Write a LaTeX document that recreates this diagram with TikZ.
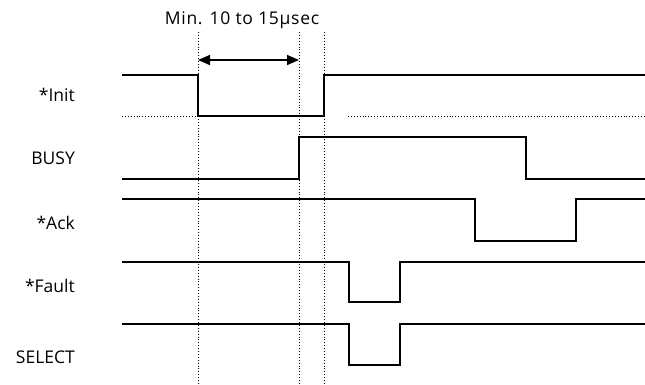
\documentclass[tikz,border=0pt]{standalone}
\usepackage{fontspec}
\setmainfont{Open Sans}
\usetikzlibrary{arrows.meta}
\begin{document}
\begin{tikzpicture}[x=1pt,y=-1pt,
  sig/.style={line width=1.4pt, line join=miter},
  guide/.style={line width=0.9pt, dotted},
  lbl/.style={anchor=base east, inner sep=0pt, font=\fontsize{17.5}{20}\selectfont},
  ttl/.style={anchor=base, inner sep=0pt, font=\fontsize{17.5}{20}\selectfont\addfontfeature{LetterSpace=4}}]
\useasboundingbox (0,0) rectangle (645,384);
% timing guide coordinates
\coordinate (t1top) at (198,32); \coordinate (t1bot) at (198,384);
\coordinate (t2top) at (299,32); \coordinate (t2bot) at (299,384);
\coordinate (t3top) at (324,32); \coordinate (t3bot) at (324,384);
\draw[guide] (t1top) -- (t1bot);
\draw[guide] (t2top) -- (t2bot);
\draw[guide] (t3top) -- (t3bot);
% title and arrow
\node[ttl] (title) at (242,24) {Min. 10 to 15µsec};
\coordinate (a1) at (198,60); \coordinate (a2) at (299,60);
\draw[line width=1.4pt, {Triangle[length=12pt,width=10pt]}-{Triangle[length=12pt,width=10pt]}] (a1) -- (a2);
% labels
\node[lbl] (init) at (75,101) {*Init};
\node[lbl] (busy) at (75,164) {BUSY};
\node[lbl] (ack) at (75,229) {*Ack};
\node[lbl] (fault) at (75,292) {*Fault};
\node[lbl] (select) at (75,363) {SELECT};
% *Init
\draw[sig] (122,75) -- (198,75) -- (198,116) -- (324,116) -- (324,75) -- (645,75);
\draw[guide] (122,116) -- (198,116);
\draw[guide] (348,116) -- (645,116);
% BUSY
\draw[sig] (122,179) -- (299,179) -- (299,137) -- (526,137) -- (526,179) -- (645,179);
% *Ack
\draw[sig] (122,199) -- (475,199) -- (475,241) -- (576,241) -- (576,199) -- (645,199);
% *Fault
\draw[sig] (122,262) -- (349,262) -- (349,302) -- (400,302) -- (400,262) -- (645,262);
% SELECT
\draw[sig] (122,324) -- (349,324) -- (349,365) -- (400,365) -- (400,324) -- (645,324);
\end{tikzpicture}
\end{document}
